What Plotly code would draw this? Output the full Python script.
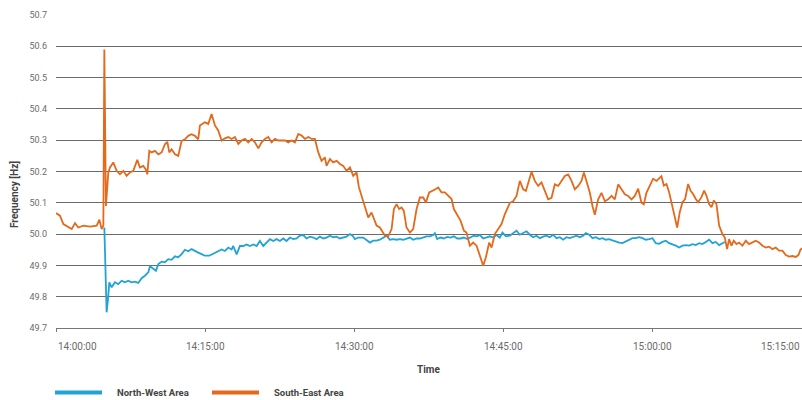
import pandas as pd
import plotly.graph_objects as go

# ---------------- data ----------------
series_names = ["North-West Area", "South-East Area"]

# minutes after 14:00:00
nw_minutes = [4.86, 4.99, 5.09, 5.23, 5.36, 5.59, 5.93, 6.26, 6.60, 6.93, 7.27, 7.60, 7.94, 8.27, 8.61, 8.94,
              9.28, 9.45, 9.78, 10.05, 10.29, 10.62, 10.95, 11.29, 11.62, 11.96, 12.29, 12.63, 12.96, 13.30,
              13.63, 13.97, 14.30, 14.64, 14.97, 15.41, 15.98, 16.31, 16.65, 16.98, 17.32, 17.66, 17.82, 18.16,
              18.49, 18.83, 19.16, 19.50, 19.83, 20.17, 20.50, 20.84, 21.17, 21.51, 21.84, 22.18, 22.51, 22.85,
              23.18, 23.52, 23.85, 24.19, 24.52, 24.86, 25.19, 25.53, 25.86, 26.20, 26.53, 26.87, 27.20, 27.54,
              27.87, 28.21, 28.54, 28.88, 29.21, 29.55, 29.82, 30.05, 30.39, 30.89, 31.22, 31.56, 31.89, 32.23,
              32.56, 32.90, 33.23, 33.57, 33.91, 34.24, 34.57, 34.91, 35.24, 35.58, 35.91, 36.25, 36.58, 36.92,
              37.25, 37.59, 37.92, 38.09, 38.32, 38.66, 38.99, 39.33, 39.66, 40.00, 40.34, 40.67, 41.01, 41.34,
              41.68, 42.01, 42.28, 42.61, 42.95, 43.28, 43.62, 43.95, 44.29, 44.62, 44.89, 45.23, 45.63, 45.96,
              46.30, 46.63, 46.97, 47.30, 47.64, 47.97, 48.31, 48.64, 48.98, 49.31, 49.65, 49.98, 50.32, 50.65,
              50.99, 51.32, 51.66, 51.99, 52.33, 52.66, 53.00, 53.27, 53.60, 53.94, 54.27, 54.61, 54.94, 55.28,
              55.61, 55.95, 56.28, 56.62, 56.95, 57.29, 57.62, 57.96, 58.29, 58.63, 58.96, 59.30, 59.63, 59.97,
              60.30, 60.64, 60.97, 61.31, 61.64, 61.98, 62.31, 62.65, 62.98, 63.32, 63.65, 63.99, 64.32, 64.66,
              64.99, 65.33, 65.66, 66.00, 66.33, 66.67, 67.00, 67.24]
nw_hz = [50.021, 49.878, 49.750, 49.793, 49.846, 49.830, 49.846, 49.840, 49.851, 49.846, 49.851, 49.846, 49.848,
         49.844, 49.859, 49.867, 49.878, 49.897, 49.888, 49.883, 49.904, 49.912, 49.910, 49.920, 49.918, 49.929,
         49.926, 49.936, 49.950, 49.945, 49.952, 49.945, 49.941, 49.936, 49.931, 49.931, 49.940, 49.946, 49.951,
         49.946, 49.957, 49.951, 49.962, 49.935, 49.962, 49.962, 49.967, 49.962, 49.967, 49.962, 49.978, 49.962,
         49.973, 49.984, 49.978, 49.984, 49.978, 49.986, 49.978, 49.989, 49.984, 49.986, 49.995, 49.997, 49.986,
         49.992, 49.989, 49.984, 49.992, 49.986, 49.989, 49.995, 49.990, 49.992, 49.986, 49.989, 49.992, 50.000,
         49.995, 49.984, 49.989, 49.989, 49.982, 49.973, 49.979, 49.979, 49.982, 49.989, 49.995, 49.982, 49.984,
         49.982, 49.984, 49.982, 49.986, 49.989, 49.982, 49.986, 49.986, 49.989, 49.993, 49.993, 49.997, 50.003,
         49.984, 49.989, 49.986, 49.991, 49.989, 49.993, 49.986, 49.986, 49.989, 49.984, 49.989, 49.995, 49.993,
         49.997, 49.986, 49.989, 49.993, 49.989, 49.997, 49.989, 50.005, 49.993, 49.995, 50.003, 50.011, 49.998,
         50.003, 50.009, 49.998, 49.990, 49.995, 49.987, 49.992, 49.995, 49.990, 49.998, 49.987, 49.990, 49.982,
         49.990, 49.987, 49.992, 49.995, 49.990, 49.995, 50.003, 49.998, 49.987, 49.990, 49.984, 49.987, 49.982,
         49.984, 49.980, 49.976, 49.973, 49.971, 49.976, 49.982, 49.987, 49.987, 49.990, 49.987, 49.982, 49.984,
         49.987, 49.971, 49.969, 49.975, 49.979, 49.971, 49.968, 49.963, 49.957, 49.963, 49.965, 49.963, 49.968,
         49.965, 49.971, 49.968, 49.975, 49.982, 49.971, 49.975, 49.965, 49.971, 49.975]

se_minutes = [0.00, 0.40, 0.74, 1.24, 1.58, 1.91, 2.24, 2.75, 3.42, 4.09, 4.36, 4.59, 4.76, 4.86, 5.02, 5.26,
              5.43, 5.76, 6.10, 6.43, 6.77, 7.10, 7.44, 7.77, 8.17, 8.44, 8.78, 9.05, 9.18, 9.38, 9.61, 9.95,
              10.29, 10.62, 10.95, 11.19, 11.39, 11.62, 11.96, 12.29, 12.63, 12.96, 13.30, 13.63, 13.97, 14.30,
              14.47, 14.97, 15.31, 15.64, 15.98, 16.31, 16.65, 16.98, 17.32, 17.66, 17.99, 18.33, 18.66, 19.00,
              19.33, 19.67, 20.00, 20.34, 20.67, 21.01, 21.34, 21.68, 22.01, 22.35, 22.68, 23.02, 23.35, 23.69,
              24.02, 24.36, 24.69, 25.03, 25.36, 25.70, 26.03, 26.37, 26.70, 27.04, 27.20, 27.54, 27.87, 28.21,
              28.54, 28.88, 29.21, 29.55, 29.88, 30.22, 30.45, 30.72, 31.05, 31.39, 31.72, 31.96, 32.23, 32.56,
              32.73, 33.07, 33.40, 33.74, 33.97, 34.24, 34.50, 34.74, 34.97, 35.24, 35.58, 35.91, 36.25, 36.58,
              36.92, 37.19, 37.52, 37.86, 38.19, 38.43, 38.76, 39.10, 39.43, 39.77, 40.00, 40.34, 40.67, 41.01,
              41.27, 41.61, 41.94, 42.28, 42.61, 42.95, 43.22, 43.55, 43.79, 44.12, 44.46, 44.79, 45.13, 45.63,
              45.96, 46.30, 46.63, 46.97, 47.24, 47.47, 47.81, 48.14, 48.48, 48.81, 49.15, 49.48, 49.82, 50.15,
              50.49, 50.82, 51.16, 51.49, 51.83, 52.16, 52.50, 52.83, 53.07, 53.33, 53.67, 53.94, 54.17, 54.51,
              54.84, 55.18, 55.51, 55.85, 56.18, 56.52, 56.85, 57.19, 57.52, 57.86, 58.19, 58.53, 58.86, 59.10,
              59.36, 59.70, 60.03, 60.37, 60.70, 60.87, 61.11, 61.38, 61.64, 61.88, 62.21, 62.45, 62.71, 62.98,
              63.25, 63.55, 63.79, 64.05, 64.32, 64.56, 64.89, 65.16, 65.39, 65.66, 65.90, 66.13, 66.40, 66.67,
              67.00, 67.24, 67.47, 67.67, 67.91, 68.14, 68.41, 68.68, 69.01, 69.35, 69.68, 70.02, 70.35, 70.69,
              71.02, 71.36, 71.69, 72.03, 72.36, 72.70, 73.03, 73.37, 73.70, 74.04, 74.37, 74.64, 74.84, 75.00]
se_hz = [50.067, 50.059, 50.032, 50.021, 50.016, 50.035, 50.021, 50.027, 50.024, 50.027, 50.046, 50.016, 50.027,
         50.590, 50.090, 50.197, 50.213, 50.229, 50.202, 50.191, 50.202, 50.186, 50.197, 50.202, 50.237, 50.213,
         50.218, 50.205, 50.191, 50.266, 50.261, 50.266, 50.255, 50.261, 50.287, 50.295, 50.261, 50.271, 50.255,
         50.250, 50.298, 50.303, 50.314, 50.319, 50.314, 50.303, 50.347, 50.357, 50.352, 50.384, 50.347, 50.331,
         50.299, 50.306, 50.310, 50.304, 50.310, 50.288, 50.299, 50.304, 50.293, 50.304, 50.293, 50.274, 50.293,
         50.304, 50.310, 50.293, 50.304, 50.299, 50.299, 50.299, 50.293, 50.299, 50.293, 50.320, 50.315, 50.304,
         50.310, 50.304, 50.304, 50.261, 50.234, 50.245, 50.218, 50.240, 50.229, 50.234, 50.224, 50.218, 50.202,
         50.213, 50.186, 50.197, 50.150, 50.122, 50.085, 50.053, 50.069, 50.048, 50.027, 50.021, 50.011, 49.995,
         49.993, 50.016, 50.080, 50.096, 50.080, 50.085, 50.074, 50.021, 50.005, 50.016, 50.080, 50.117, 50.117,
         50.101, 50.133, 50.138, 50.144, 50.149, 50.133, 50.133, 50.122, 50.112, 50.080, 50.059, 50.043, 50.011,
         50.005, 49.963, 49.973, 49.963, 49.931, 49.899, 49.926, 49.973, 49.957, 50.000, 50.016, 50.032, 50.064,
         50.100, 50.105, 50.122, 50.170, 50.143, 50.138, 50.165, 50.199, 50.170, 50.154, 50.165, 50.138, 50.111,
         50.116, 50.159, 50.154, 50.170, 50.186, 50.191, 50.170, 50.143, 50.154, 50.170, 50.197, 50.170, 50.132,
         50.089, 50.062, 50.111, 50.132, 50.105, 50.111, 50.122, 50.111, 50.159, 50.143, 50.127, 50.122, 50.111,
         50.122, 50.145, 50.100, 50.095, 50.132, 50.154, 50.177, 50.170, 50.181, 50.185, 50.155, 50.160, 50.134,
         50.102, 50.048, 50.021, 50.070, 50.102, 50.112, 50.160, 50.139, 50.128, 50.112, 50.102, 50.118, 50.139,
         50.123, 50.096, 50.086, 50.107, 50.096, 50.027, 50.000, 49.989, 49.952, 49.984, 49.963, 49.979, 49.968,
         49.973, 49.963, 49.979, 49.968, 49.973, 49.979, 49.973, 49.963, 49.957, 49.960, 49.952, 49.957, 49.947,
         49.947, 49.933, 49.928, 49.930, 49.927, 49.933, 49.950, 49.955]

x_tick_labels = ["14:00:00", "14:15:00", "14:30:00", "14:45:00", "15:00:00", "15:15:00"]
y_tick_values = [49.7, 49.8, 49.9, 50.0, 50.1, 50.2, 50.3, 50.4, 50.5, 50.6, 50.7]
y_title = "Frequency [Hz]"
x_title = "Time"

# ---------------- styling ----------------
BASE = pd.Timestamp("2021-01-01 14:00:00")
colors = ["#22a3d5", "#e3691c"]
FONT = "Roboto, 'Open Sans', sans-serif"
W, H = 802, 400
ML, MR, MT, MB = 56, 0, 15, 72
PW, PH = W - ML - MR, H - MT - MB


def to_time(mins):
    return [BASE + pd.Timedelta(minutes=m) for m in mins]


def px_x(p):  # pixel -> paper x
    return (p - ML) / PW


def px_y(p):  # pixel -> paper y
    return (H - MB - p) / PH


tick_times = [BASE + pd.Timedelta(minutes=15 * i) for i in range(len(x_tick_labels))]

fig = go.Figure()
for name, mins, vals, col in [(series_names[0], nw_minutes, nw_hz, colors[0]),
                              (series_names[1], se_minutes, se_hz, colors[1])]:
    fig.add_trace(go.Scatter(x=to_time(mins), y=vals, mode="lines", name=name,
                             line=dict(color=col, width=1.8), showlegend=False))

annotations = []
for i, (t, lab) in enumerate(zip(tick_times, x_tick_labels)):
    anchor = "left" if i == 0 else ("right" if i == len(x_tick_labels) - 1 else "center")
    annotations.append(dict(x=t, xref="x", y=0, yref="paper", yshift=-18, yanchor="middle",
                            xanchor=anchor, text=lab, showarrow=False,
                            font=dict(family=FONT, size=10, color="#6b6b6b")))
annotations.append(dict(x=0.5, xref="paper", y=0, yref="paper", yshift=-41, yanchor="middle",
                        text=f"<b>{x_title}</b>", showarrow=False,
                        font=dict(family=FONT, size=10, color="#444")))
annotations.append(dict(x=0, xref="paper", xshift=-41, xanchor="center", y=px_y(195), yref="paper",
                        yanchor="middle", text=f"<b>{y_title}</b>", textangle=-90, showarrow=False,
                        font=dict(family=FONT, size=10, color="#444")))

shapes = []
legend_items = [(55, 102, 115), (212, 259, 272)]
for (x0, x1, tx), name, col in zip(legend_items, series_names, colors):
    shapes.append(dict(type="line", xref="paper", yref="paper", x0=px_x(x0), x1=px_x(x1),
                       y0=px_y(392.5), y1=px_y(392.5), line=dict(color=col, width=4)))
    annotations.append(dict(x=px_x(tx), xref="paper", xanchor="left", y=px_y(392.5), yref="paper",
                            yanchor="middle", text=f"<b>{name}</b>", showarrow=False,
                            font=dict(family=FONT, size=9.5, color="#444")))

fig.update_layout(
    width=W, height=H,
    margin=dict(l=ML, r=MR, t=MT, b=MB, pad=0),
    paper_bgcolor="white", plot_bgcolor="white",
    font=dict(family=FONT, size=9, color="#6b6b6b"),
    annotations=annotations, shapes=shapes,
    xaxis=dict(type="date", range=[tick_times[0], tick_times[-1]], tickvals=tick_times,
               showticklabels=False, showgrid=False, zeroline=False,
               showline=True, linecolor="#777", linewidth=1,
               ticks="outside", ticklen=3, tickcolor="#777", tickwidth=1),
    yaxis=dict(range=[49.7, 50.7], tickvals=y_tick_values,
               ticktext=[f"{v:.1f}" for v in y_tick_values],
               showgrid=True, gridcolor="#6a6a6a", gridwidth=1, zeroline=False,
               showline=False, ticks="", ticklabelstandoff=8,
               tickfont=dict(family=FONT, size=9, color="#6b6b6b")),
)

fig.write_html("out.html", config={"displayModeBar": False},
               post_script="document.body.style.margin='0';document.body.style.overflow='hidden';")
